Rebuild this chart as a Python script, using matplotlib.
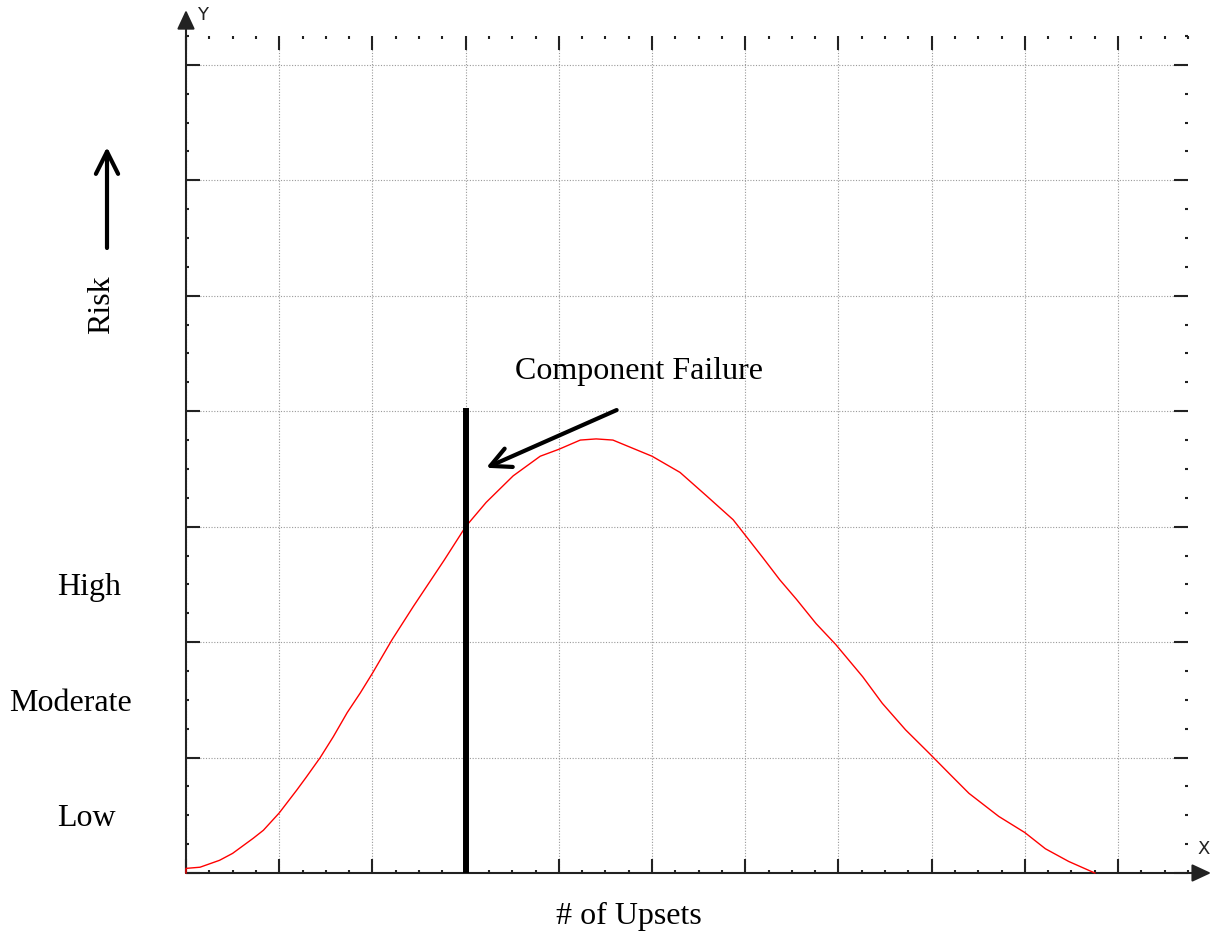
import numpy as np
import matplotlib.pyplot as plt
from matplotlib.ticker import MultipleLocator
from matplotlib.transforms import blended_transform_factory

# risk curve (x in grid units, y in grid units)
upsets = [0, 0, 0.15, 0.22, 0.36, 0.5, 0.72, 0.83, 1.0, 1.19, 1.29, 1.44, 1.58, 1.73,
          1.87, 2.0, 2.21, 2.44, 2.77, 3.0, 3.22, 3.51, 3.8, 4.0, 4.23, 4.4, 4.58,
          5.0, 5.3, 5.58, 5.87, 6.19, 6.37, 6.55, 6.76, 6.97, 7.26, 7.47, 7.72, 7.97,
          8.19, 8.4, 8.72, 9.0, 9.22, 9.47, 9.75]
risk = [0, 0.04, 0.05, 0.07, 0.11, 0.17, 0.30, 0.37, 0.52, 0.72, 0.83, 1.0, 1.18, 1.39,
        1.56, 1.73, 2.02, 2.31, 2.71, 3.0, 3.21, 3.44, 3.61, 3.67, 3.75, 3.76, 3.75,
        3.61, 3.47, 3.27, 3.06, 2.73, 2.54, 2.37, 2.16, 1.98, 1.70, 1.47, 1.24, 1.04,
        0.86, 0.69, 0.49, 0.35, 0.21, 0.10, 0.0]

failure_x = 3.0
failure_top = 4.0

level_names = ["Low", "Moderate", "High"]
level_y = [0.5, 1.5, 2.5]

W, H = 1212, 932
serif = "Liberation Serif"
ink = "#222222"

fig = plt.figure(figsize=(W / 100, H / 100), dpi=100)
ax = fig.add_axes([186 / W, 59 / H, 1002 / W, 837 / H])
ax.set_xlim(0, 10.75)
ax.set_ylim(0, 7.25)

for s in ax.spines.values():
    s.set_visible(False)

ax.xaxis.set_major_locator(MultipleLocator(1))
ax.yaxis.set_major_locator(MultipleLocator(1))
ax.xaxis.set_minor_locator(MultipleLocator(0.25))
ax.yaxis.set_minor_locator(MultipleLocator(0.25))
ax.tick_params(which="major", direction="in", length=10, width=1.5, color=ink,
               top=True, right=True, labelbottom=False, labelleft=False)
ax.tick_params(which="minor", direction="in", length=2, width=1.5, color=ink,
               top=True, right=True)
ax.grid(True, which="major", color="#9a9a9a", linestyle=(0, (1, 1.5)), linewidth=0.8)

# axis lines with arrow heads
ax.annotate("", xy=(0, 1.031), xytext=(0, 0), xycoords="axes fraction",
            arrowprops=dict(arrowstyle="-|>,head_length=0.58,head_width=0.27",
                            mutation_scale=20, lw=1.5, color=ink, shrinkA=0, shrinkB=0))
ax.annotate("", xy=(1.023, 0), xytext=(0, 0), xycoords="axes fraction",
            arrowprops=dict(arrowstyle="-|>,head_length=0.58,head_width=0.27",
                            mutation_scale=20, lw=1.5, color=ink, shrinkA=0, shrinkB=0))
fig.text(203 / W, 1 - 15 / H, "Y", ha="center", va="center", fontsize=13, color=ink)
fig.text(1204 / W, 1 - 849 / H, "X", ha="center", va="center", fontsize=13, color=ink)

ax.plot(upsets, risk, color="red", lw=1.0, clip_on=False, zorder=3)
ax.plot([failure_x, failure_x], [0, failure_top], color="black", lw=4.3, zorder=4)

ax.annotate("", xy=(3.22, 3.51), xytext=(4.62, 4.01),
            arrowprops=dict(arrowstyle="->,head_length=0.72,head_width=0.36",
                            mutation_scale=20, lw=3, color="black", shrinkA=0, shrinkB=0))
ax.text(4.86, 4.28, "Component Failure", ha="center", va="baseline",
        fontsize=23, family=serif)

# risk level labels on the left
trans = blended_transform_factory(ax.transAxes, ax.transData)
label_x = [-0.1287, -0.1766, -0.1287]
for name, y, lx in zip(level_names, level_y, label_x):
    ax.text(lx, y, name, transform=trans, ha="left", va="center_baseline",
            fontsize=23, family=serif)

fig.text(102 / W, 1 - 305 / H, "Risk", rotation=90, ha="center", va="center",
         fontsize=23, family=serif)
ax.annotate("", xy=(107, H - 147), xytext=(107, H - 248), xycoords="figure pixels",
            arrowprops=dict(arrowstyle="->,head_length=0.8,head_width=0.4",
                            mutation_scale=20, lw=3, color="black", shrinkA=0, shrinkB=0))

fig.text(629 / W, 1 - 924 / H, "# of Upsets", ha="center", va="baseline",
         fontsize=23, family=serif)

plt.savefig("out.png", dpi=100)
